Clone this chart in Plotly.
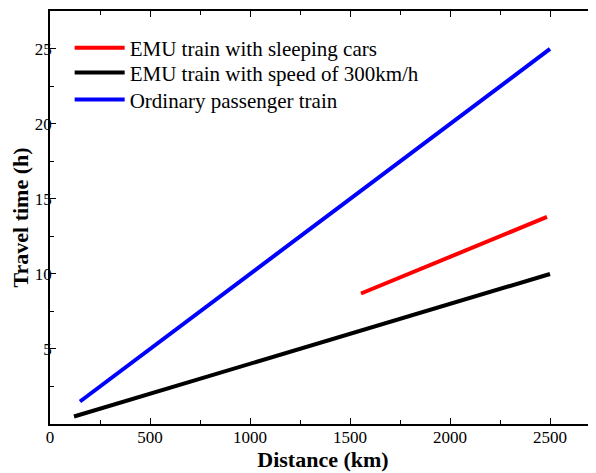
import plotly.graph_objects as go

series_names = ["EMU train with sleeping cars", "EMU train with speed of 300km/h", "Ordinary passenger train"]
red_x = [1555, 2485]
red_y = [8.7, 13.8]
black_x = [120, 2500]
black_y = [0.5, 10.0]
blue_x = [150, 2500]
blue_y = [1.5, 25.0]
colors = ["#ff0000", "#000000", "#0000ff"]

font_family = "Liberation Serif"
legend_ids = ["legend", "legend2", "legend3"]
legend_rows = [0.910, 0.850, 0.785]

fig = go.Figure()
for name, xs, ys, c, lg in zip(series_names, [red_x, black_x, blue_x], [red_y, black_y, blue_y], colors, legend_ids):
    fig.add_trace(go.Scatter(x=xs, y=ys, mode="lines", name=name, legend=lg,
                             line=dict(color=c, width=4)))

legend_common = dict(x=0.036, xanchor="left", yanchor="middle",
                     bgcolor="rgba(0,0,0,0)", font=dict(size=21, family=font_family),
                     itemwidth=50)
fig.update_layout(
    width=588, height=465,
    margin=dict(l=42, r=0, t=3, b=49),
    plot_bgcolor="white", paper_bgcolor="white",
    font=dict(family=font_family, color="black", size=17),
    showlegend=True,
    legend=dict(y=legend_rows[0], **legend_common),
    legend2=dict(y=legend_rows[1], **legend_common),
    legend3=dict(y=legend_rows[2], **legend_common),
)
fig.update_xaxes(
    range=[0, 2730], tickvals=[0, 500, 1000, 1500, 2000, 2500],
    ticks="inside", ticklen=6, tickwidth=1, tickcolor="black",
    minor=dict(ticks="inside", ticklen=4, dtick=250, tickcolor="black"),
    showline=True, linecolor="black", linewidth=1.5, mirror="ticks",
    showgrid=False, zeroline=False,
    tickfont=dict(size=17, family=font_family), ticklabelstandoff=-3,
    title=dict(text="<b>Distance (km)</b>", font=dict(size=22, family=font_family), standoff=2),
)
fig.update_yaxes(
    range=[0, 27.53], tickvals=[5, 10, 15, 20, 25],
    ticks="inside", ticklen=6, tickwidth=1, tickcolor="black",
    minor=dict(ticks="inside", ticklen=4, dtick=2.5, tickcolor="black"),
    showline=True, linecolor="black", linewidth=1.5, mirror=False,
    showgrid=False, zeroline=False,
    tickfont=dict(size=17, family=font_family), ticklabelstandoff=-7,
    title=dict(text="<b>Travel time (h)</b>", font=dict(size=22, family=font_family), standoff=2),
)
fig.write_html("out.html")
